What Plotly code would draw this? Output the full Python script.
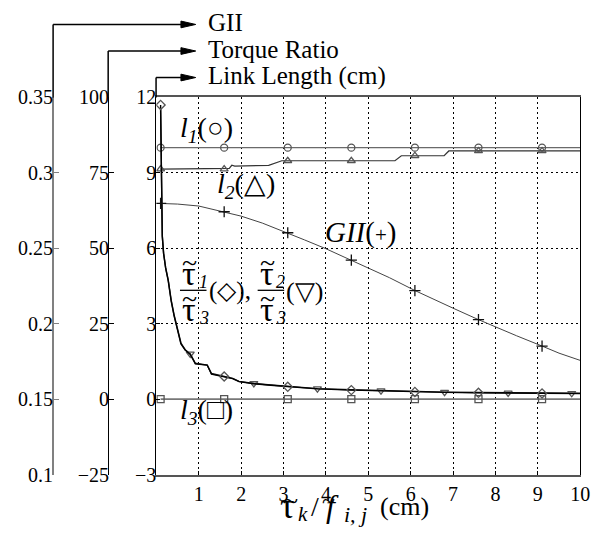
import plotly.graph_objects as go

W, H = 602, 548

# ---- data -------------------------------------------------------------
# link lengths (cm)
l1_x = [0.1, 1.6, 3.1, 4.6, 6.1, 7.6, 9.1, 10.0]
l1_y = [10.0, 10.0, 10.0, 10.0, 10.0, 10.0, 10.0, 10.0]

l2_x = [0.1, 1.6, 1.72, 1.78, 1.85, 2.65, 2.96, 3.1, 4.6, 5.63, 5.78, 6.1, 6.79, 6.9, 7.6, 9.1, 10.0]
l2_y = [9.15, 9.15, 9.18, 9.30, 9.27, 9.30, 9.48, 9.48, 9.48, 9.48, 9.68, 9.68, 9.68, 9.87, 9.87, 9.87, 9.87]

l3_x = [0.1, 1.6, 3.1, 4.6, 6.1, 7.6, 9.1, 10.0]
l3_y = [0.0, 0.0, 0.0, 0.0, 0.0, 0.0, 0.0, 0.0]

# global isotropy index
gii_x = [0.1, 0.5, 1.0, 1.6, 2.0, 2.5, 3.1, 3.5, 4.0, 4.6, 5.0, 5.5, 6.1, 6.5, 7.0,
         7.6, 8.0, 8.5, 9.1, 9.5, 10.0]
gii_y = [0.2797, 0.2793, 0.2780, 0.2742, 0.2713, 0.2667, 0.2603, 0.2555, 0.2497, 0.2422,
         0.2370, 0.2305, 0.2220, 0.2167, 0.2103, 0.2027, 0.1978, 0.1920, 0.1852, 0.1805,
         0.1757]

# torque ratios
tau_x = [0.10, 0.12, 0.14, 0.17, 0.22, 0.28, 0.35, 0.42, 0.50, 0.58, 0.68, 0.80, 0.92,
         1.05, 1.20, 1.30, 1.45, 1.60, 1.80, 1.95, 2.30, 2.70, 3.10, 3.80, 4.60, 5.30,
         6.10, 6.80, 7.60, 8.30, 9.10, 9.80, 10.0]
tau13_y = [97.5, 75.0, 54.2, 48.3, 43.3, 39.2, 32.5, 27.5, 22.9, 18.3, 16.25, 14.8, 11.7,
           11.5, 11.3, 8.3, 7.9, 7.5, 6.8, 5.8, 5.1, 4.6, 4.1, 3.4, 3.0, 2.7, 2.4, 2.25,
           2.1, 2.0, 1.9, 1.85, 1.85]
tau23_y = [96.0, 74.0, 54.0, 48.5, 43.5, 39.5, 32.8, 27.8, 23.2, 18.6, 16.4, 15.0, 11.9,
           11.6, 11.3, 8.5, 8.0, 7.6, 6.9, 5.9, 5.2, 4.7, 4.2, 3.5, 3.1, 2.8, 2.5, 2.35,
           2.2, 2.1, 2.0, 1.95, 1.95]

marks_a = [0.1, 1.6, 3.1, 4.6, 6.1, 7.6, 9.1]
marks_b = [0.8, 2.3, 3.8, 5.3, 6.8, 8.3, 9.8]

x_ticks = [1, 2, 3, 4, 5, 6, 7, 8, 9, 10]
link_ticks = [-3, 0, 3, 6, 9, 12]
torque_ticks = [-25, 0, 25, 50, 75, 100]
gii_ticks = [0.1, 0.15, 0.2, 0.25, 0.3, 0.35]

# ---- helpers ----------------------------------------------------------
def fx(px):
    return px / W


def fy(py):
    return 1 - py / H


def pick(xs, ys, where):
    lut = dict(zip(xs, ys))
    px = [v for v in where if v in lut]
    return px, [lut[v] for v in px]


SERIF = "Liberation Serif, Times New Roman, serif"
fig = go.Figure()


def add_series(xs, ys, where, symbol, yaxis="y", lcol="#555", lw=1.0, mcol="#555", msize=7):
    fig.add_trace(go.Scatter(x=xs, y=ys, mode="lines", yaxis=yaxis,
                             line=dict(color=lcol, width=lw), hoverinfo="skip"))
    mx, my = pick(xs, ys, where)
    fig.add_trace(go.Scatter(x=mx, y=my, mode="markers", yaxis=yaxis,
                             marker=dict(symbol=symbol, size=msize, color=mcol,
                                         line=dict(color=mcol, width=1.3)),
                             hoverinfo="skip"))


add_series(l1_x, l1_y, marks_a, "circle-open", lcol="#6a6a6a", lw=1.3)
add_series(l2_x, l2_y, marks_a, "triangle-up-open", lcol="#333", lw=1.2)
add_series(l3_x, l3_y, marks_a, "square-open", lcol="#777", lw=1.6, mcol="#555")
add_series(gii_x, gii_y, marks_a, "cross-thin-open", yaxis="y3", lcol="#444", lw=1.0,
           mcol="#111", msize=8)
add_series(tau_x, tau23_y, marks_b, "triangle-down-open", yaxis="y2", lcol="#111", lw=1.4)
add_series(tau_x, tau13_y, marks_a, "diamond-open", yaxis="y2", lcol="#000", lw=1.4)

tick_font = dict(family=SERIF, size=20, color="#000")
grid = dict(showgrid=True, gridcolor="#000", gridwidth=1, griddash="2px,3px")

fig.update_layout(
    width=W, height=H,
    margin=dict(l=0, r=0, t=0, b=0),
    paper_bgcolor="white", plot_bgcolor="white",
    showlegend=False,
    xaxis=dict(domain=[fx(159), fx(590)], range=[0, 10], tickvals=x_ticks,
               tickfont=tick_font, showline=True, linecolor="#555", linewidth=1.5,
               mirror=True, ticks="inside", ticklen=4, tickcolor="#000",
               ticklabelstandoff=1, zeroline=False, **grid),
    yaxis=dict(domain=[fy(483), fy(90)], range=[-3, 12], tickvals=link_ticks,
               tickfont=tick_font, showline=True, linecolor="#000", linewidth=1.2,
               mirror=True, ticks="inside", ticklen=4, tickcolor="#000",
               ticklabelstandoff=-5, zeroline=False, **grid),
    yaxis2=dict(overlaying="y", anchor="free", position=fx(110), side="left",
                range=[-25, 100], tickvals=torque_ticks, tickfont=tick_font,
                showline=True, linecolor="#000", linewidth=1.2, ticks="inside",
                ticklen=5, tickcolor="#000", ticklabelstandoff=-5,
                showgrid=False, zeroline=False),
    yaxis3=dict(overlaying="y", anchor="free", position=fx(54), side="left",
                range=[0.1, 0.35], tickvals=gii_ticks, tickfont=tick_font,
                showline=True, linecolor="#808080", linewidth=2, ticks="inside",
                ticklen=5, tickcolor="#808080", ticklabelstandoff=-5,
                showgrid=False, zeroline=False),
)

# ---- axis pointers with arrows and names --------------------------------
shapes = []
for ax_x, top_y, name in [(54, 14, "GII"), (110, 41.7, "Torque Ratio"),
                          (158.7, 69.3, "Link Length (cm)")]:
    shapes.append(dict(type="line", xref="paper", yref="paper",
                       x0=fx(ax_x), y0=fy(90), x1=fx(ax_x), y1=fy(top_y),
                       line=dict(color="#000", width=1.5)))
    shapes.append(dict(type="line", xref="paper", yref="paper",
                       x0=fx(ax_x), y0=fy(top_y), x1=fx(188), y1=fy(top_y),
                       line=dict(color="#000", width=1.5)))
    shapes.append(dict(type="path", xref="paper", yref="paper",
                       path=f"M {fx(184)},{fy(top_y - 3.5)} L {fx(199)},{fy(top_y)} "
                            f"L {fx(184)},{fy(top_y + 3.5)} Z",
                       fillcolor="#000", line=dict(color="#000", width=1)))
    fig.add_annotation(x=fx(209), y=fy(top_y - 2), xref="paper", yref="paper",
                       text=name, showarrow=False, xanchor="left", yanchor="middle",
                       font=dict(family=SERIF, size=25, color="#000"))

# fraction bars
for x0, x1 in [(183, 210), (262, 289)]:
    shapes.append(dict(type="line", xref="paper", yref="paper",
                       x0=fx(x0), y0=fy(291), x1=fx(x1), y1=fy(291),
                       line=dict(color="#000", width=1.3)))
fig.update_layout(shapes=shapes)


def label(px, py, text, anchor="left", size=26):
    fig.add_annotation(x=fx(px), y=fy(py), xref="paper", yref="paper", text=text,
                       showarrow=False, xanchor=anchor, yanchor="middle",
                       font=dict(family=SERIF, size=size, color="#000"))


def tau(px, py, sub, size=34):
    # tau with a tilde accent above it and an italic index below right
    label(px, py, "τ", anchor="left", size=size)
    label(px + 17, py + 9, "<i>%s</i>" % sub, anchor="left", size=18)
    label(px + 10, py - 11, "~", anchor="center", size=28)


label(181, 123, "<i>l</i><sub><i>1</i></sub>(○)", size=28)
label(219, 182, "<i>l</i><sub><i>2</i></sub>(△)", size=28)
label(181, 417, "<i>l</i><sub><i>3</i></sub>(□)", size=28)
label(328, 231, "<i>GII</i>(<span style='font-size:21px'>+</span>)", size=29)

tau(183, 273, "1")
tau(183, 311, "3")
tau(262, 273, "2")
tau(262, 311, "3")
label(210, 292, "(◇),", size=25)
label(289, 292, "(▽)", size=26)

# x-axis title, built piece by piece
label(283, 516, "τ", size=36)
label(301, 524, "<i>k</i>", size=21)
label(314, 516, "/", size=28)
label(329, 516, "<i>f</i>", size=32)
label(348, 525, "<i>i, j</i>", size=22)
label(384, 516, "(cm)", size=26)
label(295, 510, "~", anchor="center", size=28)
label(334, 510, "~", anchor="center", size=24)

fig.write_html("out.html")
